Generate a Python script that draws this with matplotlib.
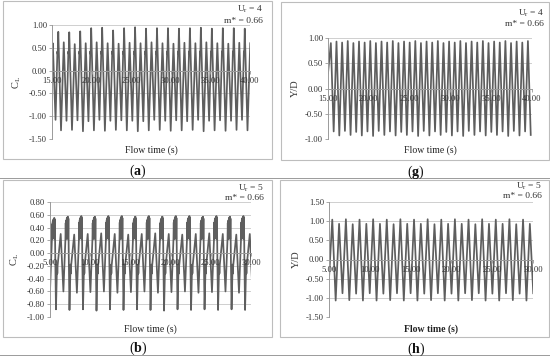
import numpy as np
import matplotlib.pyplot as plt
from matplotlib.patches import Rectangle
from matplotlib.lines import Line2D
from matplotlib.ticker import FormatStrFormatter

plt.rcParams['font.family'] = ['Liberation Serif', 'DejaVu Serif']
plt.rcParams['mathtext.fontset'] = 'custom'
plt.rcParams['mathtext.rm'] = 'Liberation Serif'
plt.rcParams['mathtext.bf'] = 'Liberation Serif:bold'

W, H = 550, 357

# ---- (a) lift coefficient, Ur = 4 ----
a_t0, a_period = 15.1, 1.385
a_start = 0.45
a_second = [0.60, 0.62, 0.58, 0.60, 0.62, 0.60, 0.59, 0.61, 0.60, 0.62,
            0.60, 0.59, 0.61, 0.60, 0.62, 0.60, 0.59, 0.61, 0.60]
a_trough_hi = [-1.08, -1.10, -1.09, -1.11, -1.08, -1.10, -1.09, -1.10, -1.11,
               -1.08, -1.10, -1.09, -1.11, -1.08, -1.10, -1.09, -1.10, -1.08]
a_knee = [0.42, 0.36]
a_tall = [0.85, 0.84, 0.86, 0.93, 0.94, 0.88, 0.93, 0.95, 0.92,
          0.93, 0.93, 0.92, 0.93, 0.94, 0.92, 0.93, 0.93, 0.92]
a_trough_lo = [-1.31, -1.30, -1.33, -1.31, -1.32, -1.30, -1.31, -1.33, -1.31,
               -1.30, -1.32, -1.31, -1.30, -1.33, -1.31, -1.32, -1.30, -1.31]

# ---- (g) displacement, Ur = 4 ----
g_t0, g_period = 15.35, 0.69
g_start = 0.30
g_peaks = [0.90, 0.93, 0.91, 0.94, 0.90, 0.93, 0.91, 0.94, 0.90, 0.93, 0.91, 0.94,
           0.90, 0.93, 0.91, 0.94, 0.90, 0.93, 0.91, 0.94, 0.90, 0.93, 0.91, 0.94,
           0.90, 0.93, 0.91, 0.94, 0.90, 0.93, 0.91, 0.94, 0.90, 0.93, 0.91, 0.94]
g_troughs = [-0.85, -0.93, -0.84, -0.92, -0.86, -0.93, -0.85, -0.94, -0.84, -0.92,
             -0.85, -0.93, -0.86, -0.92, -0.85, -0.94, -0.84, -0.93, -0.85, -0.92,
             -0.86, -0.93, -0.85, -0.94, -0.84, -0.92, -0.85, -0.93, -0.86, -0.92,
             -0.85, -0.94, -0.84, -0.93, -0.85, -0.92]

# ---- (b) lift coefficient, Ur = 5 ----
b_t0, b_period = 5.44, 1.68
b_start = -0.60
b_block_max = [0.55, 0.57, 0.58, 0.57, 0.58, 0.58, 0.57, 0.58,
               0.57, 0.58, 0.58, 0.57, 0.58, 0.57, 0.58]
b_block = [0.22, 0.48, 0.22, 0.52, 0.25, 0.55, 0.24, 0.57, 0.26, 0.58, 0.22, 0.55]
b_block_f = [-0.12, -0.10, -0.08, -0.06, -0.04, -0.02, 0.0, 0.02, 0.04, 0.06, 0.08, 0.10]
b_deep = [-0.88, -0.89, -0.88, -0.90, -0.88, -0.89, -0.88, -0.89,
          -0.90, -0.88, -0.89, -0.88, -0.89, -0.88, -0.89]
b_wiggle = [-0.10, -0.88, -0.30, -0.18, -0.32, -0.20]
b_wiggle_f = [0.13, 0.18, 0.24, 0.26, 0.28, 0.30]
b_light = [0.30, 0.29, 0.30, 0.31, 0.30, 0.29, 0.30, 0.31,
           0.30, 0.29, 0.30, 0.31, 0.30, 0.29, 0.30]
b_mid = [-0.60, -0.62, -0.61, -0.60, -0.62, -0.61, -0.60, -0.62,
         -0.61, -0.60, -0.62, -0.61, -0.60, -0.62, -0.61]

# ---- (h) displacement, Ur = 5 ----
h_t0, h_period = 5.40, 0.835
h_start = -0.50
h_peaks = [1.04, 0.93, 1.05, 0.92, 1.04, 0.93, 1.05, 0.93, 1.04, 0.92,
           1.05, 0.93, 1.04, 0.93, 1.05, 0.92, 1.04, 0.93, 1.05, 0.93,
           1.04, 0.92, 1.05, 0.93, 1.04, 0.93, 1.05, 0.92, 1.04, 0.93]
h_troughs = [-1.07, -0.88, -1.06, -0.89, -1.07, -0.88, -1.07, -0.89, -1.06, -0.88,
             -1.07, -0.88, -1.07, -0.89, -1.06, -0.88, -1.07, -0.89, -1.07, -0.88,
             -1.06, -0.88, -1.07, -0.89, -1.07, -0.88, -1.06, -0.89, -1.07, -0.88]


def series_a():
    t, y = [15.0], [a_start]
    for k in range(len(a_tall)):
        tc = a_t0 + k * a_period
        t += [tc, tc + 0.25 * a_period, tc + 0.42 * a_period, tc + 0.45 * a_period,
              tc + 0.5 * a_period, tc + 0.75 * a_period]
        y += [a_second[k], a_trough_hi[k], a_knee[0], a_knee[1], a_tall[k], a_trough_lo[k]]
    t.append(a_t0 + len(a_tall) * a_period)
    y.append(a_second[-1])
    return t, y


def series_sine(t0, period, start, peaks, troughs, tstart):
    t, y = [tstart], [start]
    for k in range(len(peaks)):
        tc = t0 + k * period
        t += [tc, tc + 0.5 * period]
        y += [peaks[k], troughs[k]]
    return t, y


def series_b():
    t, y = [5.0], [b_start]
    for k in range(len(b_block_max)):
        tc = b_t0 + k * b_period
        sc = b_block_max[k] / max(b_block)
        for f, v in zip(b_block_f, b_block):
            t.append(tc + f * b_period)
            y.append(v * sc if v > 0.3 else v)
        for f, v in zip(b_wiggle_f, b_wiggle):
            t.append(tc + f * b_period)
            y.append(b_deep[k] if v == -0.88 else v)
        t += [tc + 0.53 * b_period, tc + 0.73 * b_period]
        y += [b_light[k], b_mid[k]]
    return t, y


fig = plt.figure(figsize=(W / 100, H / 100), dpi=100)


def px_axes(x0, y0, x1, y1):
    return fig.add_axes([x0 / W, 1 - y1 / H, (x1 - x0) / W, (y1 - y0) / H])


def frame(x0, y0, x1, y1):
    fig.add_artist(Rectangle((x0 / W, 1 - y1 / H), (x1 - x0) / W, (y1 - y0) / H,
                             transform=fig.transFigure, fill=False,
                             edgecolor='#bdbdbd', linewidth=0.8))


def style(ax, xlim, xt, ylim, yt, ylabel, xlabel, bold=False):
    ax.set_xlim(*xlim)
    ax.set_ylim(*ylim)
    ax.set_xticks(xt)
    ax.set_yticks(yt)
    ax.xaxis.set_major_formatter(FormatStrFormatter('%.2f'))
    ax.yaxis.set_major_formatter(FormatStrFormatter('%.2f'))
    ax.set_axisbelow(False)
    for v in yt:
        ax.axhline(v, color='#c8c8c8', linewidth=0.6, zorder=1)
    for s in ['top', 'right']:
        ax.spines[s].set_visible(False)
    ax.spines['bottom'].set_position(('data', 0))
    ax.spines['bottom'].set_color('#9a9a9a')
    ax.spines['left'].set_color('#9a9a9a')
    ax.spines['bottom'].set_linewidth(0.7)
    ax.spines['left'].set_linewidth(0.7)
    ax.tick_params(axis='both', labelsize=6.2, colors='#9a9a9a', labelcolor='#333333',
                   length=2, width=0.6, pad=1.5)
    ax.tick_params(axis='x', pad=2.5)
    ax.set_facecolor('none')
    ax.set_ylabel(ylabel, fontsize=7.5, color='#333333', labelpad=4)
    ax.text(0.5, -0.06, xlabel, transform=ax.transAxes, ha='center', va='top',
            fontsize=7, color='#222222', fontweight='bold' if bold else 'normal')


line_kw = dict(color='#5e5e5e', linewidth=1.25, zorder=2)

# panel frames and separators
frame(3, 1, 272, 159)
frame(281, 2, 549, 160)
frame(3, 180, 272, 337)
frame(280, 180, 549, 337)
for yy in [178, 355]:
    fig.add_artist(Line2D([0, 1], [1 - yy / H, 1 - yy / H], transform=fig.transFigure,
                          color='#9a9a9a', linewidth=0.7))

# (a)
ax = px_axes(52, 25, 250, 139)
t, y = series_a()
ax.plot(t, y, **line_kw)
style(ax, (15, 40), [15, 20, 25, 30, 35, 40], (-1.5, 1.0),
      [-1.5, -1.0, -0.5, 0, 0.5, 1.0], 'C$_\\mathrm{L}$', 'Flow time (s)')

# (g)
ax = px_axes(328, 38, 532, 139)
t, y = series_sine(g_t0, g_period, g_start, g_peaks, g_troughs, 15.0)
ax.plot(t, y, **line_kw)
style(ax, (15, 40), [15, 20, 25, 30, 35, 40], (-1.0, 1.0),
      [-1.0, -0.5, 0, 0.5, 1.0], 'Y/D', 'Flow time (s)')

# (b)
ax = px_axes(50, 202, 251, 317)
t, y = series_b()
ax.plot(t, y, **line_kw)
style(ax, (5, 30), [5, 10, 15, 20, 25, 30], (-1.0, 0.8),
      [-1.0, -0.8, -0.6, -0.4, -0.2, 0, 0.2, 0.4, 0.6, 0.8], 'C$_\\mathrm{L}$', 'Flow time (s)')

# (h)
ax = px_axes(329, 202, 533, 317)
t, y = series_sine(h_t0, h_period, h_start, h_peaks, h_troughs, 5.0)
ax.plot(t, y, **line_kw)
style(ax, (5, 30), [5, 10, 15, 20, 25, 30], (-1.5, 1.5),
      [-1.5, -1.0, -0.5, 0, 0.5, 1.0, 1.5], 'Y/D', 'Flow time (s)', bold=True)

# annotations
notes = [(263, 9, 21, '4'), (544, 13, 24, '4'), (264, 188, 198, '5'), (542, 186, 196, '5')]
for xr, y1, y2, ur in notes:
    fig.text(xr / W, 1 - y1 / H, 'U$_\\mathrm{r}$ = ' + ur, ha='right', va='center',
             fontsize=6.8, color='#333333')
    fig.text(xr / W, 1 - y2 / H, 'm* = 0.66', ha='right', va='center',
             fontsize=6.8, color='#333333')

labels = [(138, 171, 'a'), (416, 172, 'g'), (138, 348, 'b'), (416, 349, 'h')]
for xc, yc, s in labels:
    fig.text(xc / W, 1 - yc / H, '(' + '$\\mathbf{' + s + '}$' + ')', ha='center',
             va='center', fontsize=10, color='#111111')

fig.savefig('out.png', dpi=100)
